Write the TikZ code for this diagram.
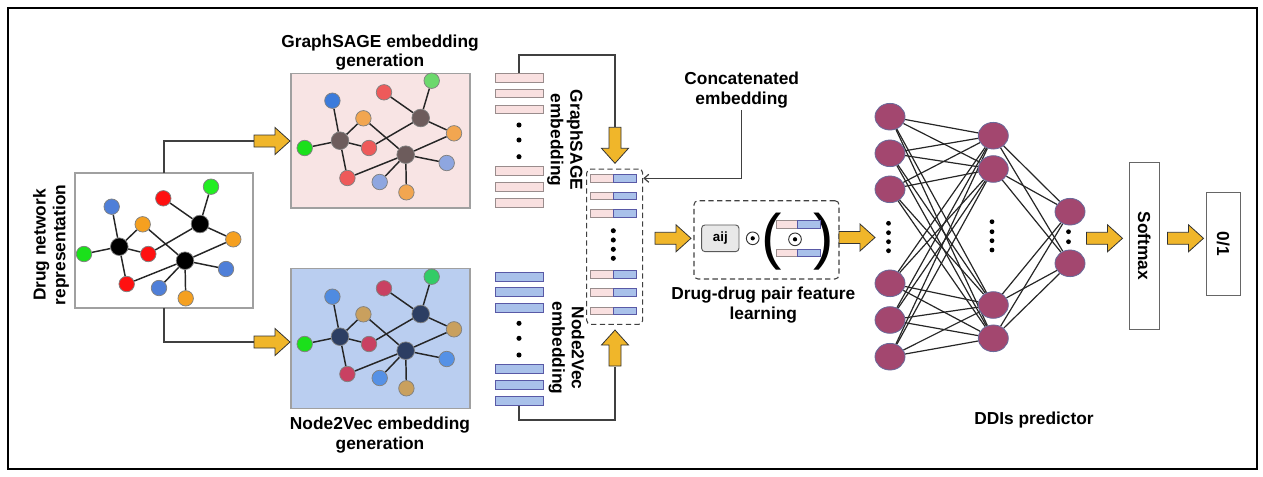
\documentclass[tikz,border=0pt]{standalone}
\usepackage{fontspec}
\setmainfont{Liberation Sans}
\usetikzlibrary{shapes.geometric,arrows.meta}
\pgfdeclarelayer{bg}\pgfdeclarelayer{edges}\pgfsetlayers{bg,edges,main}
\definecolor{ayel}{HTML}{F0B62A}
\definecolor{pinkbg}{HTML}{F8E4E4}
\definecolor{bluebg}{HTML}{BACEF0}
\definecolor{pinkbar}{HTML}{F9E0E0}
\definecolor{bluebar}{HTML}{A9C1EA}
\definecolor{nnfill}{HTML}{A3476F}
\definecolor{nndraw}{HTML}{6A6A9A}
\definecolor{boxgray}{HTML}{A0A0A0}
% left graph
\definecolor{dK}{HTML}{000000}\definecolor{dR}{HTML}{FF1010}\definecolor{dG}{HTML}{22EE22}
\definecolor{dB}{HTML}{4F7FD8}\definecolor{dO}{HTML}{F5A020}
% graphsage
\definecolor{sK}{HTML}{6D5C5C}\definecolor{sR}{HTML}{EE5A5A}\definecolor{sG}{HTML}{6CD86C}
\definecolor{sB}{HTML}{3C7BDB}\definecolor{sBb}{HTML}{8EA6E0}\definecolor{sO}{HTML}{F2A650}
% node2vec
\definecolor{vK}{HTML}{2C3E63}\definecolor{vR}{HTML}{C94162}\definecolor{vG}{HTML}{33CC66}
\definecolor{vB}{HTML}{4F8BE0}\definecolor{vBb}{HTML}{5591E6}\definecolor{vO}{HTML}{C9A05E}
\definecolor{vivid}{HTML}{1BE01B}
\tikzset{
  lbl/.style={font=\fontsize{13}{14.7}\selectfont\bfseries, align=center, inner sep=0pt},
  gn/.style={circle, draw=gray, line width=0.55pt, minimum size=11.6pt, inner sep=0pt},
  hn/.style={circle, draw=gray, line width=0.55pt, minimum size=13.2pt, inner sep=0pt},
  gedge/.style={draw=black!85, line width=1.1pt},
  conn/.style={draw=black!75, line width=0.9pt},
  dashbox/.style={draw=black!75, line width=0.8pt, dash pattern=on 4pt off 2.5pt, rounded corners=3pt, inner sep=0pt},
  gbox/.style={draw=boxgray, line width=0.8pt, anchor=north west, inner sep=0pt, outer sep=0pt},
  sbar/.style={draw=gray!80!pink, fill=pinkbar, line width=0.6pt, minimum width=36pt, minimum height=6.6pt, inner sep=0pt},
  nbar/.style={draw=gray!70!blue, fill=bluebar, line width=0.6pt, minimum width=36pt, minimum height=6.6pt, inner sep=0pt},
  cpink/.style={draw=gray!80!pink, fill=pinkbar, line width=0.5pt, minimum width=17pt, minimum height=5.3pt, inner sep=0pt, anchor=east},
  cblue/.style={draw=gray!70!blue, fill=bluebar, line width=0.5pt, minimum width=17pt, minimum height=5.3pt, inner sep=0pt, anchor=west},
  nn/.style={ellipse, fill=nnfill, draw=nndraw, line width=0.6pt, minimum width=22.5pt, minimum height=20pt, inner sep=0pt},
  nnedge/.style={draw=black!85, line width=0.9pt},
  odot/.style={circle, draw=black!80, line width=0.7pt, minimum size=9.5pt, inner sep=0pt,
     path picture={\fill[black] (path picture bounding box.center) circle (1.6pt);}},
  yarrow/.pic={\draw[fill=ayel, draw=black!80, line width=0.6pt, line join=miter]
     (0,0) -- (-15,13.5) -- (-15,6) -- (-36,6) -- (-36,-6) -- (-15,-6) -- (-15,-13.5) -- cycle;}
}
\newcommand{\drugnet}[8]{%
  \begin{scope}[shift={#2}]
  \node[gn,fill=#6] (#1btl) at (111.7,206.7) {};
  \node[gn,fill=#8] (#1ot) at (142.7,224.3) {};
  \node[gn,fill=#4] (#1rt) at (163.3,198.3) {};
  \node[gn,fill=#5] (#1gtr) at (211,186.7) {};
  \node[hn,fill=#3] (#1kr) at (200,224) {};
  \node[gn,fill=#8] (#1or) at (233.3,239.3) {};
  \node[gn,fill=vivid] (#1gl) at (84,254) {};
  \node[hn,fill=#3] (#1kl) at (119.3,246.7) {};
  \node[gn,fill=#4] (#1rm) at (148.3,254) {};
  \node[hn,fill=#3] (#1km) at (185,260.7) {};
  \node[gn,fill=#7] (#1br) at (226,269) {};
  \node[gn,fill=#4] (#1rb) at (126.7,284) {};
  \node[gn,fill=#7] (#1bb) at (159,288) {};
  \node[gn,fill=#8] (#1ob) at (185.7,298.3) {};
  \begin{pgfonlayer}{edges}
  \draw[gedge] (#1kl)--(#1btl) (#1kl)--(#1ot) (#1kl)--(#1gl) (#1kl)--(#1rm) (#1kl)--(#1rb)
    (#1rt)--(#1kr) (#1gtr)--(#1kr) (#1kr)--(#1or) (#1kr)--(#1rm)
    (#1ot)--(#1km) (#1km)--(#1or) (#1km)--(#1br) (#1km)--(#1bb) (#1km)--(#1ob) (#1km)--(#1rb);
  \end{pgfonlayer}
  \end{scope}}
\begin{document}
\begin{tikzpicture}[x=0.75pt,y=-0.75pt]
\useasboundingbox (0,0) rectangle (1263,476);
\draw[line width=1.2pt] (8,8) rectangle (1257,469);

% boxes
\begin{pgfonlayer}{bg}
\node[gbox, fill=white, minimum width=133.5pt, minimum height=101.25pt] (drugbox) at (75,173) {};
\node[gbox, fill=pinkbg, minimum width=134.25pt, minimum height=101pt] (sagebox) at (291,73.3) {};
\node[gbox, fill=bluebg, minimum width=134.25pt, minimum height=105pt] (n2vbox) at (291,268.3) {};
\end{pgfonlayer}

% graphs
\drugnet{d}{(0,0)}{dK}{dR}{dG}{dB}{dB}{dO}
\drugnet{s}{(220.7,-106)}{sK}{sR}{sG}{sB}{sBb}{sO}
\drugnet{v}{(220.7,90)}{vK}{vR}{vG}{vB}{vBb}{vO}

% labels
\node[lbl, rotate=90] (druglbl) at (51,245) {Drug network\\representation};
\node[lbl] (sagelbl) at (380,52.5) {GraphSAGE embedding\\generation};
\node[lbl] (n2vlbl) at (380,435.3) {Node2Vec embedding\\generation};
\node[lbl, rotate=-90] (sageemb) at (565,140) {GraphSAGE\\embedding};
\node[lbl, rotate=-90] (n2vemb) at (566.5,348) {Node2Vec\\embedding};
\node[lbl] (concatlbl) at (741.7,90) {Concatenated\\embedding};
\node[lbl] (pairlbl) at (763.3,305) {Drug-drug pair feature\\learning};
\node[lbl] (ddilbl) at (1034,420) {DDIs predictor};

% left connectors
\coordinate (sain) at (254,141);
\coordinate (nain) at (254,342);
\draw[conn] (drugbox.north) |- (sain);
\draw[conn] (drugbox.south) |- (nain);
\pic at (290,141) {yarrow};
\pic at (290,342) {yarrow};

% embedding bars
\foreach \y [count=\i] in {77.7,93.3,109.3,171,186.7,202.7} \node[sbar] (s\i) at (519,\y) {};
\foreach \y [count=\i] in {276.7,291.7,307.7,369,385,401} \node[nbar] (n\i) at (519,\y) {};
\foreach \y in {125,140,156.7,323.3,338.3,355} \fill (519,\y) circle (1.9pt);

% concatenated box
\node[dashbox, minimum width=42pt, minimum height=116.5pt] (concatbox) at (614.7,246.7) {};
\foreach \y [count=\i] in {178.3,196,213.3,274.3,292.3,310.7} {
  \node[cpink] (cp\i) at (613.3,\y) {};
  \node[cblue] (cb\i) at (613.3,\y) {};
}
\foreach \y in {230.7,240,249.3,258.3} \fill (613.3,\y) circle (1.9pt);

\coordinate (sagecorner) at (615,55);
\coordinate (sagein) at (615,126.7);
\draw[conn] (s1.north) |- (sagecorner) -- (sagein);
\pic[rotate=-90] at (615,163.3) {yarrow};
\coordinate (n2vcorner) at (615,420);
\coordinate (n2vin) at (615,366.7);
\draw[conn] (n6.south) |- (n2vcorner) -- (n2vin);
\pic[rotate=90] at (615,330) {yarrow};

\coordinate (clblfoot) at (741.7,110);
\coordinate (cin) at (concatbox.east |- 0,178.3);
\draw[conn, -{Straight Barb[length=3.5pt,width=6pt]}] (clblfoot) |- (cin);

% pair feature box
\node[dashbox, minimum width=108.75pt, minimum height=58.7pt] (pairbox) at (766.5,239.85) {};
\node[draw=black!65, fill=black!9, rounded corners=2.5pt, line width=0.7pt, minimum width=28pt, minimum height=20pt, inner sep=0pt, font=\fontsize{10}{12}\selectfont\bfseries] (aij) at (720.3,238.3) {aij};
\node[odot] (od1) at (752.7,238.3) {};
\node[inner sep=0pt, font=\fontsize{46}{46}\selectfont] (lpar) at (771.5,241.7) {(};
\node[inner sep=0pt, font=\fontsize{46}{46}\selectfont] (rpar) at (823.5,241.7) {)};
\node[cpink, minimum width=15.5pt] (pp1) at (797.3,224.3) {};
\node[cblue] (pb1) at (797.3,224.3) {};
\node[cpink, minimum width=15.5pt] (pp2) at (797.3,252.7) {};
\node[cblue] (pb2) at (797.3,252.7) {};
\node[odot] (od2) at (795,239.3) {};

\pic at (691,238.3) {yarrow};
\pic at (875,237.5) {yarrow};

% neural network
\foreach \y [count=\i] in {116.7,153.3,189.3,283.3,320,356.7} \node[nn] (a\i) at (890,\y) {};
\foreach \y [count=\i] in {135.7,169,305,338.3} \node[nn] (b\i) at (993.3,\y) {};
\foreach \y [count=\i] in {211.7,263.3} \node[nn] (c\i) at (1070,\y) {};
\begin{pgfonlayer}{edges}
\foreach \i in {1,...,6} \foreach \j in {1,...,4} \draw[nnedge] (a\i) -- (b\j);
\foreach \i in {1,...,4} \foreach \j in {1,2} \draw[nnedge] (b\i) -- (c\j);
\end{pgfonlayer}
\foreach \y in {223.3,232.7,241.7,250.7} \fill (888.5,\y) circle (1.8pt);
\foreach \y in {221.7,231.7,240.7,250} \fill (992,\y) circle (1.8pt);
\foreach \y in {231.7,241.7} \fill (1068.5,\y) circle (1.8pt);

% softmax and output
\node[draw=black!60, line width=0.7pt, minimum width=22.5pt, minimum height=125pt, inner sep=0pt] (softmax) at (1144.3,246) {};
\node[lbl, rotate=-90] (softlbl) at (softmax.center) {Softmax};
\node[draw=black!60, line width=0.7pt, minimum width=25pt, minimum height=77.5pt, inner sep=0pt] (outbox) at (1223.3,244) {};
\node[lbl, rotate=-90] (outlbl) at (outbox.center) {0/1};
\pic at (1122.5,238.3) {yarrow};
\pic at (1203.5,238.3) {yarrow};
\end{tikzpicture}
\end{document}
